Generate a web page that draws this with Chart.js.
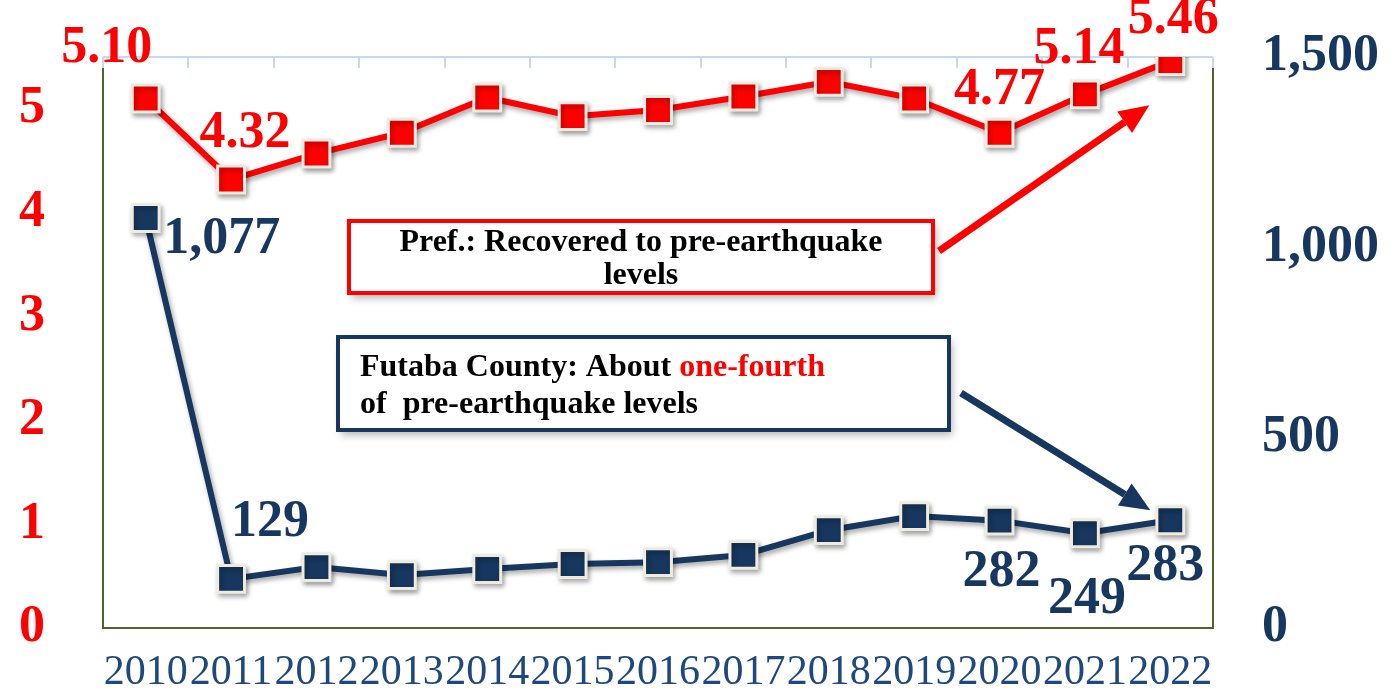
<!DOCTYPE html>
<html>
<head>
<meta charset="utf-8">
<script src="https://cdn.jsdelivr.net/npm/chart.js@4"></script>
<style>
    html, body { margin: 0; padding: 0; background: #fff; }
    #wrap { width: 1398px; height: 695px; position: relative; }
</style>
</head>
<body>
<div id="wrap"><canvas id="chart"></canvas></div>
<script>
const years = ['2010', '2011', '2012', '2013', '2014', '2015', '2016', '2017', '2018', '2019', '2020', '2021', '2022'];
const prefValues = [5.10, 4.32, 4.57, 4.77, 5.11, 4.93, 4.99, 5.12, 5.26, 5.10, 4.77, 5.14, 5.46];
const futabaValues = [1077, 129, 160, 139, 155, 168, 173, 192, 257, 294, 282, 249, 283];
const prefLabelIdx = [0, 1, 10, 11, 12];
const futabaLabelIdx = [0, 1, 10, 11, 12];
const leftTicks = [0, 1, 2, 3, 4, 5];
const rightTicks = [0, 500, 1000, 1500];

const RED = '#FF0000';
const NAVY = '#17375E';
const SERIF = "'Liberation Serif', 'Times New Roman', serif";

// label offsets from the point, in px
const prefOffsets = { 0: [-39, -50], 1: [14, -46], 10: [0, -42], 11: [-6, -45], 12: [3, -42] };
const futabaOffsets = { 0: [76, 22], 1: [39, -56], 10: [2, 52], 11: [2, 66], 12: [-5, 46] };

const shadowPlugin = {
    id: 'shadow',
    beforeDatasetsDraw(chart) {
        const ctx = chart.ctx;
        ctx.save();
        ctx.shadowColor = 'rgba(0,0,0,0.35)';
        ctx.shadowBlur = 5;
        ctx.shadowOffsetX = 2;
        ctx.shadowOffsetY = 3;
    },
    afterDatasetsDraw(chart) {
        chart.ctx.restore();
    }
};

const framePlugin = {
    id: 'frame',
    beforeDatasetsDraw(chart) {
        const { ctx, chartArea: a } = chart;
        ctx.save();
        // top line with category ticks
        ctx.strokeStyle = '#C6D9F1';
        ctx.lineWidth = 2;
        ctx.beginPath();
        ctx.moveTo(a.left, a.top);
        ctx.lineTo(a.right, a.top);
        const step = (a.right - a.left) / years.length;
        for (let i = 0; i <= years.length; i++) {
            const px = Math.round(a.left + i * step);
            ctx.moveTo(px, a.top);
            ctx.lineTo(px, a.top + 11);
        }
        ctx.stroke();
        // left, bottom, right
        ctx.strokeStyle = '#4F6228';
        ctx.lineWidth = 2;
        ctx.beginPath();
        ctx.moveTo(a.left, a.top + 11);
        ctx.lineTo(a.left, a.bottom);
        ctx.lineTo(a.right, a.bottom);
        ctx.lineTo(a.right, a.top + 11);
        ctx.stroke();
        ctx.restore();
    }
};

function drawArrow(ctx, x1, y1, x2, y2, color, width) {
    const ang = Math.atan2(y2 - y1, x2 - x1);
    const head = 30, hw = 13;
    const bx = x2 - head * Math.cos(ang), by = y2 - head * Math.sin(ang);
    ctx.strokeStyle = color;
    ctx.fillStyle = color;
    ctx.lineWidth = width;
    ctx.beginPath();
    ctx.moveTo(x1, y1);
    ctx.lineTo(bx, by);
    ctx.stroke();
    ctx.beginPath();
    ctx.moveTo(x2, y2);
    ctx.lineTo(bx + hw * Math.sin(ang), by - hw * Math.cos(ang));
    ctx.lineTo(bx - hw * Math.sin(ang), by + hw * Math.cos(ang));
    ctx.closePath();
    ctx.fill();
}

function drawBox(ctx, x, y, w, h, color) {
    ctx.save();
    ctx.shadowColor = 'rgba(0,0,0,0.3)';
    ctx.shadowBlur = 8;
    ctx.shadowOffsetX = 3;
    ctx.shadowOffsetY = 5;
    ctx.fillStyle = '#fff';
    ctx.fillRect(x, y, w, h);
    ctx.restore();
    ctx.strokeStyle = color;
    ctx.lineWidth = 4;
    ctx.strokeRect(x, y, w, h);
}

const notesPlugin = {
    id: 'notes',
    afterDatasetsDraw(chart) {
        const { ctx, chartArea: a } = chart;
        const pRed = chart.getDatasetMeta(0).data[12];
        const pNavy = chart.getDatasetMeta(1).data[12];
        ctx.save();

        // prefecture note
        const rx = a.left + 246, ry = a.top + 164, rw = 584, rh = 72;
        drawBox(ctx, rx, ry, rw, rh, RED);
        ctx.fillStyle = '#000';
        ctx.font = 'bold 32px ' + SERIF;
        ctx.textAlign = 'center';
        ctx.textBaseline = 'middle';
        ctx.fillText('Pref.: Recovered to pre-earthquake', rx + rw / 2, ry + 22, 483);
        ctx.fillText('levels', rx + rw / 2, ry + 55);
        drawArrow(ctx, rx + rw + 6, ry + 30, pRed.x - 21, pRed.y + 44, RED, 7);

        // futaba note
        const nx = a.left + 235, ny = a.top + 280, nw = 611, nh = 93;
        drawBox(ctx, nx, ny, nw, nh, NAVY);
        ctx.textAlign = 'left';
        ctx.fillStyle = '#000';
        const t1 = 'Futaba County: About ';
        ctx.fillText(t1, nx + 22, ny + 31);
        const w1 = ctx.measureText(t1).width;
        ctx.fillStyle = RED;
        ctx.fillText('one-fourth', nx + 22 + w1, ny + 31);
        ctx.fillStyle = '#000';
        ctx.fillText('of  pre-earthquake levels', nx + 22, ny + 68);
        drawArrow(ctx, nx + nw + 12, ny + 56, pNavy.x - 20, pNavy.y - 10, NAVY, 7);

        ctx.restore();
    }
};

const valueLabelPlugin = {
    id: 'valueLabels',
    afterDraw(chart) {
        const ctx = chart.ctx;
        ctx.save();
        ctx.font = 'bold 52px ' + SERIF;
        ctx.textAlign = 'center';
        ctx.textBaseline = 'middle';
        const redPts = chart.getDatasetMeta(0).data;
        ctx.fillStyle = RED;
        prefLabelIdx.forEach(i => {
            const o = prefOffsets[i];
            ctx.fillText(prefValues[i].toFixed(2), redPts[i].x + o[0], redPts[i].y + o[1]);
        });
        const navyPts = chart.getDatasetMeta(1).data;
        ctx.fillStyle = NAVY;
        futabaLabelIdx.forEach(i => {
            const o = futabaOffsets[i];
            ctx.fillText(futabaValues[i].toLocaleString('en-US'), navyPts[i].x + o[0], navyPts[i].y + o[1]);
        });
        ctx.restore();
    }
};

function fixWidth(w) {
    return s => {
        s.width = w;
        s.paddingTop = 0;
        s.paddingBottom = 0;
    };
}

new Chart(document.getElementById('chart'), {
    type: 'line',
    data: {
        labels: years,
        datasets: [{
            label: 'Fukushima Pref.',
            data: prefValues,
            yAxisID: 'yLeft',
            borderColor: RED,
            borderWidth: 6,
            pointStyle: 'rect',
            pointRadius: 19,
            pointBackgroundColor: RED,
            pointBorderColor: '#EEECE1',
            pointBorderWidth: 3,
            tension: 0
        }, {
            label: 'Futaba County',
            data: futabaValues,
            yAxisID: 'yRight',
            borderColor: NAVY,
            borderWidth: 6,
            pointStyle: 'rect',
            pointRadius: 19,
            pointBackgroundColor: NAVY,
            pointBorderColor: '#EEECE1',
            pointBorderWidth: 3,
            tension: 0
        }]
    },
    options: {
        responsive: true,
        maintainAspectRatio: false,
        animation: false,
        layout: { autoPadding: false, padding: { top: 57, left: 0, right: 0, bottom: 0 } },
        plugins: {
            legend: { display: false },
            tooltip: { enabled: false }
        },
        scales: {
            x: {
                offset: true,
                grid: { display: false, drawTicks: false },
                border: { display: false },
                afterFit: s => {
                    s.height = 67;
                    s.paddingLeft = 0;
                    s.paddingRight = 0;
                },
                ticks: {
                    autoSkip: false,
                    maxRotation: 0,
                    padding: 20,
                    color: '#1F497D',
                    font: { family: SERIF, size: 42 }
                }
            },
            yLeft: {
                position: 'left',
                min: 0,
                max: 5.5,
                grid: { display: false, drawTicks: false },
                border: { display: false },
                afterFit: fixWidth(103),
                afterBuildTicks: s => { s.ticks = leftTicks.map(v => ({ value: v })); },
                ticks: {
                    padding: 58,
                    color: RED,
                    font: { family: SERIF, size: 52, weight: 'bold' }
                }
            },
            yRight: {
                position: 'right',
                min: 0,
                max: 1500,
                grid: { display: false, drawTicks: false },
                border: { display: false },
                afterFit: fixWidth(185),
                afterBuildTicks: s => { s.ticks = rightTicks.map(v => ({ value: v })); },
                ticks: {
                    padding: 49,
                    color: NAVY,
                    font: { family: SERIF, size: 52, weight: 'bold' },
                    callback: v => v.toLocaleString('en-US')
                }
            }
        }
    },
    plugins: [framePlugin, shadowPlugin, notesPlugin, valueLabelPlugin]
});
</script>
</body>
</html>
